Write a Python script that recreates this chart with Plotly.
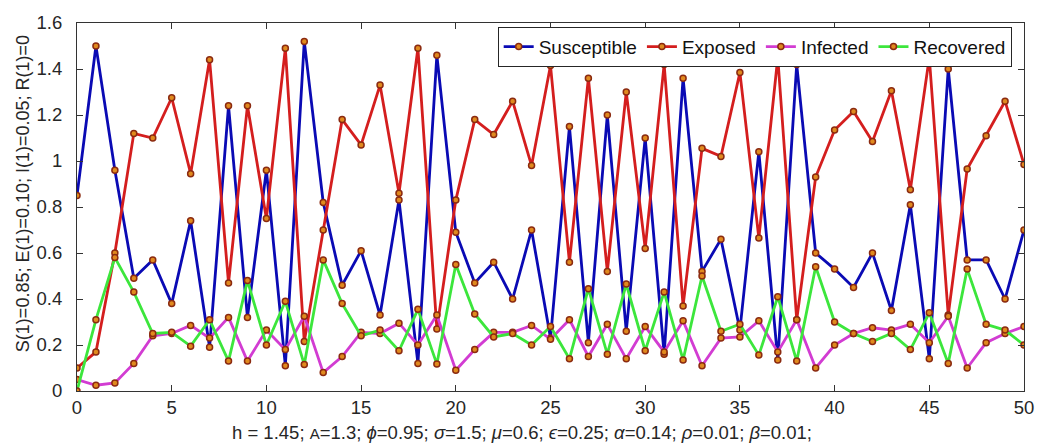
import plotly.graph_objects as go

t = list(range(51))

susceptible = [0.85, 1.50, 0.96, 0.49, 0.57, 0.38, 0.74, 0.19, 1.24, 0.32,
               0.96, 0.11, 1.52, 0.82, 0.46, 0.61, 0.33, 0.83, 0.12, 1.46,
               0.69, 0.47, 0.56, 0.40, 0.70, 0.23, 1.15, 0.21, 1.20, 0.26,
               1.10, 0.16, 1.36, 0.52, 0.66, 0.265, 1.04, 0.135, 1.42, 0.60,
               0.53, 0.45, 0.60, 0.35, 0.81, 0.14, 1.40, 0.57, 0.57, 0.40,
               0.70]
exposed = [0.10, 0.17, 0.60, 1.12, 1.10, 1.275, 0.945, 1.44, 0.47, 1.24,
           0.75, 1.49, 0.215, 0.70, 1.18, 1.07, 1.33, 0.86, 1.49, 0.27,
           0.83, 1.18, 1.115, 1.26, 0.98, 1.415, 0.56, 1.36, 0.52, 1.30,
           0.62, 1.42, 0.37, 1.055, 1.02, 1.385, 0.665, 1.45, 0.31, 0.93,
           1.135, 1.215, 1.085, 1.305, 0.875, 1.45, 0.33, 0.965, 1.11, 1.26,
           0.985]
infected = [0.05, 0.025, 0.035, 0.12, 0.24, 0.25, 0.285, 0.23, 0.32, 0.13,
            0.265, 0.18, 0.325, 0.08, 0.15, 0.255, 0.25, 0.295, 0.20, 0.33,
            0.09, 0.18, 0.255, 0.255, 0.285, 0.225, 0.31, 0.15, 0.29, 0.14,
            0.28, 0.17, 0.305, 0.11, 0.23, 0.235, 0.305, 0.17, 0.31, 0.10,
            0.20, 0.25, 0.275, 0.265, 0.29, 0.21, 0.325, 0.10, 0.21, 0.25,
            0.28]
recovered = [0.0, 0.31, 0.58, 0.43, 0.25, 0.255, 0.195, 0.31, 0.13, 0.48,
             0.20, 0.39, 0.115, 0.57, 0.38, 0.24, 0.265, 0.175, 0.355, 0.117,
             0.55, 0.335, 0.235, 0.25, 0.20, 0.28, 0.14, 0.445, 0.16, 0.465,
             0.175, 0.43, 0.135, 0.50, 0.26, 0.29, 0.156, 0.41, 0.13, 0.54,
             0.30, 0.25, 0.215, 0.25, 0.18, 0.34, 0.12, 0.53, 0.29, 0.265,
             0.20]

series = [
    ("Susceptible", susceptible, "#0a0ab4"),
    ("Exposed", exposed, "#d41e1e"),
    ("Infected", infected, "#d23cd2"),
    ("Recovered", recovered, "#3ce63c"),
]

FONT = "Liberation Sans, Arial, sans-serif"

fig = go.Figure()
for name, vals, col in series:
    fig.add_trace(go.Scatter(
        x=t, y=vals, name=name, mode="lines+markers",
        line=dict(color=col, width=2.8),
        marker=dict(symbol="circle", size=6, color="#e08a1e",
                    line=dict(color="#8b2a10", width=1.5)),
    ))

axis_common = dict(
    showgrid=False, zeroline=False, showline=True, linecolor="#333333",
    linewidth=1, mirror="ticks", ticks="inside", ticklen=6,
    tickcolor="#333333", tickfont=dict(family=FONT, size=18.5, color="#262626"),
)

fig.update_layout(
    width=1046, height=447,
    margin=dict(l=77, r=15, t=16, b=56),
    paper_bgcolor="white", plot_bgcolor="white",
    font=dict(family=FONT, size=19, color="#262626"),
    xaxis=dict(range=[0, 50], tickmode="array",
               tickvals=[0, 5, 10, 15, 20, 25, 30, 35, 40, 45, 50],
               **axis_common),
    yaxis=dict(range=[0, 1.6], tickmode="array",
               tickvals=[0, 0.2, 0.4, 0.6, 0.8, 1.0, 1.2, 1.4, 1.6],
               ticktext=["0", "0.2", "0.4", "0.6", "0.8", "1", "1.2", "1.4", "1.6"],
               ticklabelstandoff=10,
               **axis_common),
    legend=dict(orientation="h", x=0.987, xanchor="right", y=0.99,
                yanchor="top", bgcolor="white", bordercolor="#262626",
                borderwidth=1, font=dict(family=FONT, size=19, color="#111111"),
                itemwidth=30, tracegroupgap=0),
    showlegend=True,
)

fig.add_annotation(
    text="S(1)=0.85; E(1)=0.10; I(1)=0.05; R(1)=0",
    xref="paper", yref="paper", x=-0.057, y=0.535, xanchor="center",
    yanchor="middle", textangle=-90, showarrow=False,
    font=dict(family=FONT, size=18, color="#262626"),
)

fig.add_annotation(
    text=("h = 1.45; <span style='font-size:15px'>A</span>=1.3; <i>ϕ</i>=0.95; "
          "<i>σ</i>=1.5; <i>μ</i>=0.6; <i>ϵ</i>=0.25; <i>α</i>=0.14; "
          "<i>ρ</i>=0.01; <i>β</i>=0.01;"),
    xref="paper", yref="paper", x=0.47, y=-0.113, xanchor="center",
    yanchor="middle", showarrow=False,
    font=dict(family=FONT, size=18.5, color="#262626"),
)

fig.write_html("out.html")
